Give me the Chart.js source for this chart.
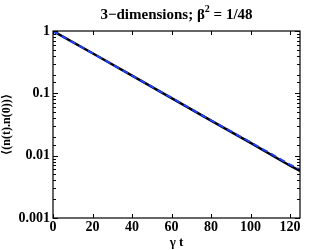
<!DOCTYPE html>
<html>
<head>
<meta charset="utf-8">
<script src="https://cdn.jsdelivr.net/npm/chart.js@4"></script>
<style>
  html, body { margin: 0; padding: 0; background: #fff; }
  #wrap { width: 332px; height: 250px; }
</style>
</head>
<body>
<div id="wrap"><canvas id="myChart" width="332" height="250"></canvas></div>
<script>
// values
var times = [0, 20, 40, 60, 80, 100, 120, 125];
var simValues = [1, 0.44, 0.192, 0.084, 0.0365, 0.016, 0.0069, 0.0057];
var theoryValues = [1, 0.44, 0.193, 0.085, 0.037, 0.0164, 0.0072, 0.006];
var yLabels = [1, 0.1, 0.01, 0.001];
var xTicks = [0, 20, 40, 60, 80, 100, 120];

var serif = "'Liberation Serif', 'DejaVu Serif', serif";

function toPoints(vals) {
    return times.map(function(t, i) { return { x: t, y: vals[i] }; });
}

// inward tick marks on all four sides + title
var tickPlugin = {
    id: 'tickPlugin',
    afterDraw: function(chart) {
        var ctx = chart.ctx;
        var a = chart.chartArea;
        var xs = chart.scales.x, ys = chart.scales.y;
        ctx.save();
        ctx.strokeStyle = '#000';
        ctx.lineWidth = 1;
        ctx.beginPath();
        xTicks.forEach(function(v) {
            var px = Math.round(xs.getPixelForValue(v)) + 0.5;
            ctx.moveTo(px, a.bottom); ctx.lineTo(px, a.bottom - 4);
            ctx.moveTo(px, a.top); ctx.lineTo(px, a.top + 4);
        });
        ys.ticks.forEach(function(t) {
            var py = Math.round(ys.getPixelForValue(t.value)) + 0.5;
            var major = yLabels.indexOf(t.value) >= 0;
            var len = major ? 5 : 3;
            ctx.moveTo(a.left, py); ctx.lineTo(a.left + len, py);
            ctx.moveTo(a.right, py); ctx.lineTo(a.right - len, py);
        });
        ctx.stroke();
        ctx.lineWidth = 1.2;
        ctx.strokeRect(a.left, a.top, a.right - a.left, a.bottom - a.top);

        // title with superscript
        var cx = (a.left + a.right) / 2;
        ctx.fillStyle = '#000';
        ctx.textBaseline = 'alphabetic';
        var p1 = '3\u2212dimensions; \u03b2', p3 = ' = 1/48';
        ctx.font = 'bold 10px ' + serif;
        var w2 = ctx.measureText('2').width;
        ctx.font = 'bold 15px ' + serif;
        var w1 = ctx.measureText(p1).width, w3 = ctx.measureText(p3).width;
        var x0 = cx - (w1 + w2 + w3) / 2;
        ctx.textAlign = 'left';
        ctx.fillText(p1, x0, 19);
        ctx.font = 'bold 10px ' + serif;
        ctx.fillText('2', x0 + w1, 12);
        ctx.font = 'bold 15px ' + serif;
        ctx.fillText(p3, x0 + w1 + w2, 19);
        ctx.restore();
    }
};

var ctx = document.getElementById('myChart').getContext('2d');
var myChart = new Chart(ctx, {
    type: 'line',
    data: {
        datasets: [{
            label: 'theory',
            data: toPoints(theoryValues),
            borderColor: '#1f3fff',
            borderWidth: 2,
            borderDash: [6, 4],
            pointRadius: 0,
            tension: 0
        }, {
            label: 'simulation',
            data: toPoints(simValues),
            borderColor: '#000',
            borderWidth: 2.5,
            pointRadius: 0,
            tension: 0
        }]
    },
    plugins: [tickPlugin],
    options: {
        responsive: false,
        animation: false,
        layout: { padding: { top: 31, right: 32, left: 0, bottom: 0 } },
        plugins: { legend: { display: false }, tooltip: { enabled: false }, title: { display: false } },
        scales: {
            x: {
                type: 'linear',
                min: 0,
                max: 125,
                afterFit: function(s) { s.height = 32; },
                afterBuildTicks: function(s) { s.ticks = xTicks.map(function(v) { return { value: v }; }); },
                grid: { display: false, drawTicks: false, tickLength: 0 },
                border: { display: false },
                ticks: { color: '#000', font: { family: serif, weight: 'bold', size: 14 }, padding: 1, maxRotation: 0 },
                title: { display: true, text: '\u03b3 t', color: '#000', font: { family: serif, weight: 'bold', size: 13 }, padding: { top: -3, bottom: 0 } }
            },
            y: {
                type: 'logarithmic',
                min: 0.001,
                max: 1,
                afterFit: function(s) { s.width = 53; },
                grid: { display: false, drawTicks: false, tickLength: 0 },
                border: { display: false },
                ticks: {
                    color: '#000',
                    autoSkip: false,
                    padding: 3,
                    font: { family: serif, weight: 'bold', size: 14 },
                    callback: function(v) {
                        var i = yLabels.indexOf(v);
                        return i >= 0 ? String(yLabels[i]) : '';
                    }
                },
                title: { display: true, text: '\u27e8(n(t).n(0))\u27e9', color: '#000', font: { family: serif, weight: 'bold', size: 12 }, padding: { top: 0, bottom: 0 } }
            }
        }
    }
});
</script>
</body>
</html>
